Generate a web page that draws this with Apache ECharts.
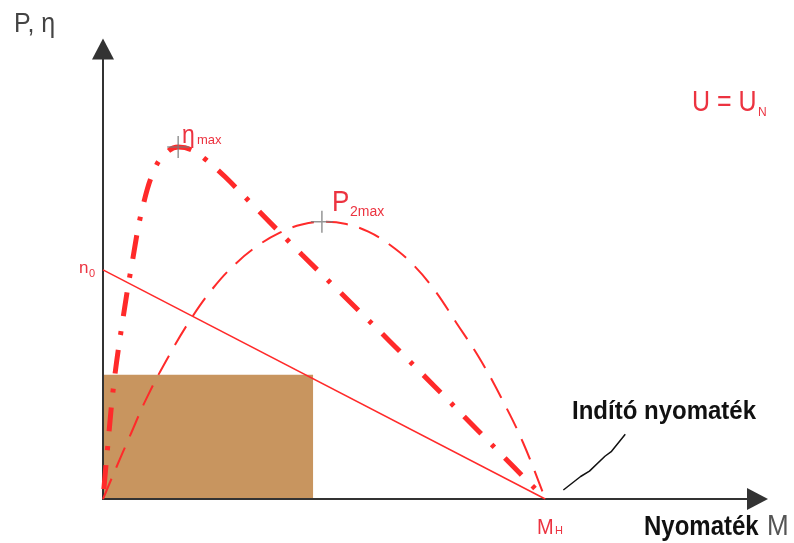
<!DOCTYPE html>
<html>
<head>
<meta charset="utf-8">
<script src="https://cdn.jsdelivr.net/npm/echarts@6/dist/echarts.min.js"></script>
<style>
  html, body { margin: 0; padding: 0; background: #ffffff; }
  #chart { width: 794px; height: 543px; }
</style>
</head>
<body>
<div id="chart"></div>
<script>
// Torque axis: M_H = 10 units; vertical axis in relative units (0..100)
const xMax = 14.8;
const yMax = 100;

// Efficiency curve η(M) — rises steeply from zero, peaks, falls to M_H
const etaCurve = [
  [0, 0], [0.1, 11], [0.25, 26], [0.45, 40], [0.65, 52], [0.9, 65], [1.2, 74],
  [1.5, 77.5], [1.7, 78.2], [2.0, 77.6], [2.3, 75.6], [2.76, 71.6], [3.5, 64.2],
  [4.5, 54.3], [5.5, 44.6], [6.5, 34.9], [7.5, 25.0], [8.5, 15.0], [9.3, 7.0], [10, 0]
];

// Output power curve P2(M)
const p2Curve = [
  [0, 0], [0.3, 7], [0.6, 13.8], [1.0, 22.7], [1.5, 32], [2.0, 40.2], [2.5, 47],
  [3.0, 52.3], [3.5, 56.3], [4.0, 59.2], [4.5, 61], [5.0, 61.6], [5.5, 61.1],
  [6.0, 59.4], [6.5, 56.4], [7.0, 52.2], [7.5, 46.4], [8.0, 39], [8.5, 31.5],
  [9.0, 22.6], [9.5, 12.5], [10, 0]
];

// Speed line from n0 (no-load) down to M_H (starting torque)
const speedLine = [[0, 50.9], [10, 0]];

// Maxima
const etaMax = [1.70, 78.2];
const p2Max = [4.95, 61.6];

// Shaded operating region (corner opposite the origin)
const regionCorner = [4.75, 27.6];

// Leader line for the starting-torque note
const leader = [[10.41, 2.0], [10.8, 5.0], [11.0, 6.2], [11.35, 9.5], [11.5, 10.6], [11.81, 14.4]];

const RED = '#ff2a2a';
const TXT_RED = '#ec3340';
const FONT = '"Liberation Sans", Arial, sans-serif';

const chart = echarts.init(document.getElementById('chart'), null, { renderer: 'canvas' });

const plusPath = 'path://M0,-10L0,10M-10,0L10,0';

function txt(x, y, text, size, color, weight, sy) {
  return {
    type: 'text',
    x: x, y: y,
    scaleY: sy || 1,
    z: 100,
    style: {
      text: text,
      fill: color,
      font: (weight || 'normal') + ' ' + size + 'px ' + FONT,
      align: 'left',
      verticalAlign: 'middle'
    }
  };
}

chart.setOption({
  animation: false,
  backgroundColor: '#ffffff',
  grid: { left: 103, right: 36.5, top: 49, bottom: 44 },
  xAxis: {
    type: 'value', min: 0, max: xMax,
    splitLine: { show: false },
    axisTick: { show: false },
    axisLabel: { show: false },
    axisLine: {
      onZero: false,
      lineStyle: { color: '#333', width: 2 },
      symbol: ['none', 'triangle'],
      symbolSize: [22, 21]
    },
    z: 3
  },
  yAxis: {
    type: 'value', min: 0, max: yMax,
    splitLine: { show: false },
    axisTick: { show: false },
    axisLabel: { show: false },
    axisLine: {
      onZero: false,
      lineStyle: { color: '#333', width: 2 },
      symbol: ['none', 'triangle'],
      symbolSize: [22, 21]
    },
    z: 1
  },
  series: [
    {
      name: 'n',
      type: 'line',
      data: speedLine,
      symbol: 'none',
      lineStyle: { color: RED, width: 1.5 },
      z: 4,
      markArea: {
        silent: true,
        itemStyle: { color: '#c8955f', opacity: 1 },
        data: [[{ coord: [0, 0] }, { coord: regionCorner }]]
      }
    },
    {
      name: 'P2',
      type: 'line',
      data: p2Curve,
      symbol: 'none',
      smooth: 0.4,
      lineStyle: { color: RED, width: 2, type: [22, 12], cap: 'butt' },
      z: 5
    },
    {
      name: 'eta',
      type: 'line',
      data: etaCurve,
      symbol: 'none',
      smooth: 0.4,
      lineStyle: { color: RED, width: 5, type: [24, 15, 4, 15], dashOffset: 48, cap: 'butt' },
      z: 6
    },
    {
      name: 'max',
      type: 'scatter',
      data: [etaMax, p2Max],
      symbol: plusPath,
      symbolSize: 22,
      itemStyle: { color: 'rgba(0,0,0,0)', borderColor: '#7a7a7a', borderWidth: 1.5 },
      z: 8
    },
    {
      name: 'leader',
      type: 'line',
      data: leader,
      symbol: 'none',
      lineStyle: { color: '#111', width: 1.5 },
      z: 7
    }
  ],
  graphic: [
    txt(14, 24, 'P, η', 25, '#444', 'normal', 1.1),
    txt(182, 136, 'η', 23, TXT_RED, 'normal', 1.12),
    txt(197, 140, 'max', 13, TXT_RED),
    txt(332, 203, 'P', 26, TXT_RED, 'normal', 1.1),
    txt(350, 212, '2max', 14, TXT_RED),
    txt(692, 103, 'U = U', 25, TXT_RED, 'normal', 1.15),
    txt(758, 113, 'N', 12, TXT_RED),
    txt(79, 268, 'n', 17, TXT_RED),
    txt(89, 274, '0', 11, TXT_RED),
    txt(537, 528, 'M', 20, TXT_RED, 'normal', 1.1),
    txt(555, 531, 'H', 11, TXT_RED),
    txt(572, 412, 'Indító nyomaték', 24, '#111', 'bold', 1.08),
    txt(644, 527, 'Nyomaték', 24, '#111', 'bold', 1.15),
    txt(767, 527, 'M', 26, '#555', 'normal', 1.1)
  ]
});
</script>
</body>
</html>
